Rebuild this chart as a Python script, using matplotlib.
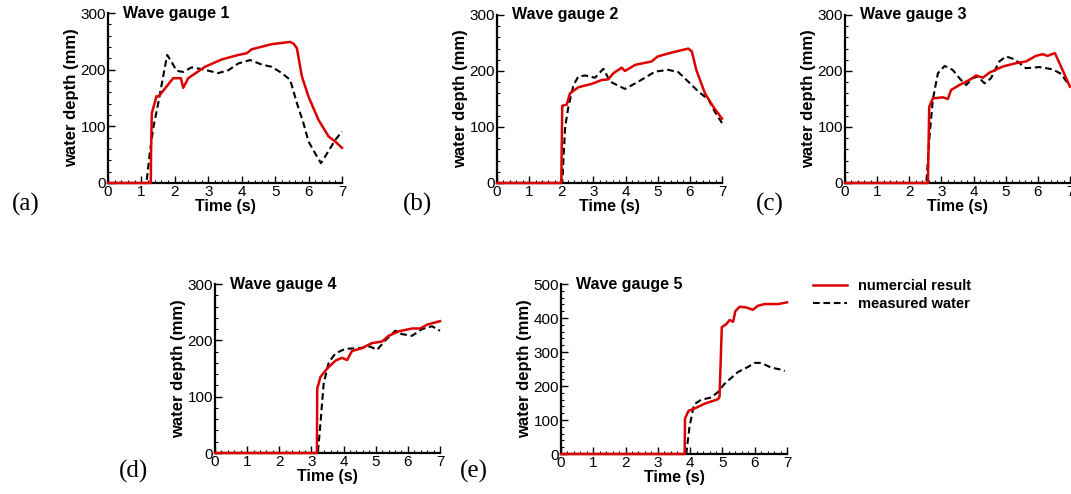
import numpy as np
import matplotlib
matplotlib.use('Agg')
import matplotlib.pyplot as plt
from matplotlib.ticker import MultipleLocator

plt.rcParams['font.family'] = ['Liberation Sans', 'DejaVu Sans']

# gauge 1
t1_num = [0, 1.28, 1.29, 1.31, 1.45, 1.52, 1.95, 2.18, 2.25, 2.4, 2.9, 3.4, 3.9, 4.15, 4.3, 4.9, 5.45, 5.55, 5.65, 5.8, 6.0, 6.3, 6.6, 6.8, 7.0]
h1_num = [0, 0, 60, 123, 153, 153, 185, 185, 168, 185, 205, 218, 226, 229, 236, 245, 249, 246, 238, 188, 152, 111, 82, 73, 62]
t1_mea = [0, 1.15, 1.26, 1.36, 1.5, 1.65, 1.77, 1.9, 2.05, 2.25, 2.5, 2.8, 3.3, 3.6, 3.9, 4.25, 4.6, 4.9, 5.2, 5.45, 5.65, 5.85, 6.0, 6.2, 6.37, 6.55, 6.8, 7.0]
h1_mea = [0, 0, 58, 99, 140, 188, 226, 214, 198, 196, 204, 201, 194, 199, 211, 217, 209, 205, 194, 182, 141, 105, 73, 52, 35, 52, 76, 91]

# gauge 2
t2_num = [0, 2.0, 2.03, 2.17, 2.27, 2.53, 2.95, 3.26, 3.46, 3.62, 3.88, 3.98, 4.3, 4.81, 5.0, 5.44, 5.95, 6.06, 6.2, 6.47, 6.73, 7.0]
h2_num = [0, 0, 138, 140, 160, 171, 177, 184, 185, 196, 206, 200, 211, 217, 226, 233, 240, 235, 202, 160, 136, 115]
t2_mea = [0, 2.03, 2.12, 2.22, 2.38, 2.53, 2.74, 3.05, 3.31, 3.52, 3.98, 4.4, 4.92, 5.33, 5.64, 5.95, 6.27, 6.58, 6.78, 7.0]
h2_mea = [0, 0, 100, 136, 175, 190, 192, 188, 204, 181, 168, 181, 199, 202, 198, 181, 163, 149, 127, 107]

# gauge 3
t3_num = [0, 2.58, 2.62, 2.73, 3.04, 3.2, 3.3, 3.56, 3.87, 4.08, 4.29, 4.49, 4.91, 5.32, 5.63, 5.94, 6.15, 6.3, 6.53, 6.72, 7.0]
h3_num = [0, 0, 136, 151, 153, 150, 166, 175, 184, 192, 188, 197, 208, 214, 217, 227, 230, 227, 232, 208, 172]
t3_mea = [0, 2.53, 2.63, 2.73, 2.89, 3.1, 3.35, 3.56, 3.77, 3.97, 4.13, 4.34, 4.54, 4.8, 5.01, 5.27, 5.63, 6.05, 6.46, 6.72, 6.93]
h3_mea = [0, 0, 83, 148, 196, 209, 202, 187, 175, 187, 190, 178, 187, 217, 226, 221, 205, 207, 203, 195, 178]

# gauge 4
t4_num = [0, 3.17, 3.18, 3.28, 3.49, 3.75, 3.95, 4.11, 4.26, 4.57, 4.88, 5.2, 5.4, 5.72, 6.13, 6.39, 6.6, 7.0]
h4_num = [0, 0, 114, 135, 150, 164, 169, 165, 181, 186, 195, 198, 208, 216, 221, 221, 228, 234]
t4_mea = [0, 3.2, 3.28, 3.38, 3.54, 3.75, 4.06, 4.47, 4.83, 5.04, 5.3, 5.61, 5.82, 6.13, 6.44, 6.75, 7.0]
h4_mea = [0, 0, 52, 123, 161, 177, 185, 186, 189, 183, 200, 217, 211, 208, 220, 225, 217]

# gauge 5
t5_num = [0, 3.83, 3.84, 3.95, 4.14, 4.45, 4.86, 4.91, 4.98, 5.12, 5.22, 5.33, 5.4, 5.53, 5.74, 5.94, 6.1, 6.31, 6.72, 7.0]
h5_num = [0, 0, 104, 127, 134, 148, 161, 168, 373, 382, 394, 389, 420, 433, 431, 424, 436, 441, 441, 446]
t5_mea = [0, 3.88, 3.98, 4.12, 4.35, 4.65, 4.86, 5.07, 5.48, 5.79, 6.0, 6.2, 6.51, 6.82, 6.93]
h5_mea = [0, 0, 80, 146, 160, 166, 182, 207, 241, 256, 268, 268, 254, 248, 244]

gauges = [
    (t1_num, h1_num, t1_mea, h1_mea, 300, '(a)'),
    (t2_num, h2_num, t2_mea, h2_mea, 300, '(b)'),
    (t3_num, h3_num, t3_mea, h3_mea, 300, '(c)'),
    (t4_num, h4_num, t4_mea, h4_mea, 300, '(d)'),
    (t5_num, h5_num, t5_mea, h5_mea, 500, '(e)'),
]

W, H = 1071, 494
# axes boxes in pixels: left, top, width, height
boxes = [(108, 13, 234, 170), (497, 15, 225, 168), (845, 15, 225, 168),
         (215, 284, 225, 169), (561, 284, 226, 170)]
letter_pos = [(26, 204), (418, 204), (770, 204), (134, 471), (474, 471)]

fig = plt.figure(figsize=(W / 100, H / 100), dpi=100)

for i, (tn, hn, tm, hm, ymax, letter) in enumerate(gauges):
    l, t, w, h = boxes[i]
    ax = fig.add_axes([l / W, 1 - (t + h) / H, w / W, h / H])
    ax.plot(tm, hm, c='k', ls='--', lw=1.5, dashes=(3.2, 1.8), label='measured water', clip_on=False, zorder=3)
    ax.plot(tn, hn, c='#dd0000', lw=1.8, label='numercial result', clip_on=False, zorder=4)
    ax.set_xlim(0, 7)
    ax.set_ylim(0, ymax)
    ax.xaxis.set_major_locator(MultipleLocator(1))
    ax.xaxis.set_minor_locator(MultipleLocator(0.2))
    ax.yaxis.set_major_locator(MultipleLocator(100))
    ax.yaxis.set_minor_locator(MultipleLocator(20))
    ax.spines['top'].set_visible(False)
    ax.spines['right'].set_visible(False)
    ax.spines['left'].set_linewidth(1.6)
    ax.spines['bottom'].set_linewidth(1.6)
    ax.tick_params(which='major', direction='in', length=5, width=1, labelsize=11, pad=1.5)
    ax.tick_params(which='minor', direction='in', length=2.5, width=0.8)
    ax.set_xlabel('Time (s)', fontweight='bold', fontsize=11.5, labelpad=0)
    ax.set_ylabel('water depth (mm)', fontweight='bold', fontsize=12, labelpad=1)
    ax.text(0.065, 1.0, 'Wave gauge %d' % (i + 1), transform=ax.transAxes,
            fontweight='bold', fontsize=11.5, va='center', ha='left')
    fig.text(letter_pos[i][0] / W, 1 - letter_pos[i][1] / H, letter,
             family=['Liberation Serif', 'DejaVu Serif'], fontsize=18,
             ha='center', va='center')
    if i == 4:
        handles, labels = ax.get_legend_handles_labels()
        fig.legend(handles[::-1], labels[::-1], loc='upper left',
                   bbox_to_anchor=(800 / W, 1 - 266 / H), frameon=False,
                   handlelength=2.3, handletextpad=0.8, labelspacing=0.25,
                   prop={'weight': 'bold', 'size': 10.5})

plt.savefig('out.png', dpi=100)
